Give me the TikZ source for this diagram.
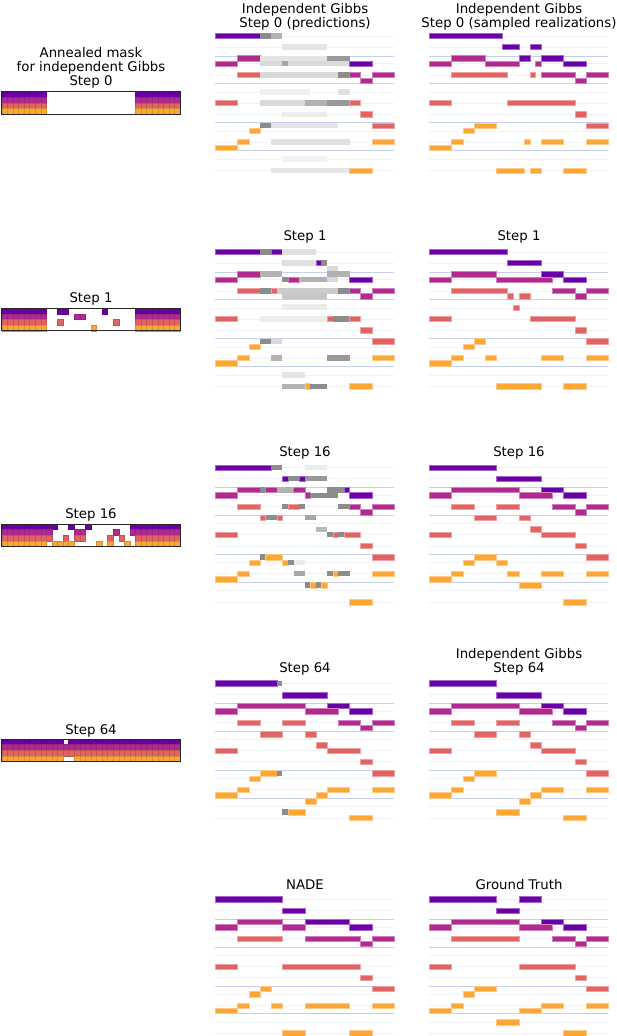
\documentclass[tikz,border=0pt]{standalone}
\usepackage{fontspec}
\setmainfont{DejaVu Sans}
\begin{document}
\definecolor{cP}{HTML}{6A00A8}
\definecolor{cM}{HTML}{B12A90}
\definecolor{cR}{HTML}{E16462}
\definecolor{cO}{HTML}{FCA636}
\definecolor{lnA}{HTML}{EEF0FA}
\definecolor{lnB}{HTML}{C6CFF0}
\newcommand\pX{0}\newcommand\pY{0}
\newcommand\setp[2]{\renewcommand\pX{#1}\renewcommand\pY{#2}%
  \foreach \o in {0,11,27.7,39,56,67,78.3,95,106,123,134.5}{\draw[lnA,line width=.6pt] (\pX,\pY+\o) -- (\pX+179,\pY+\o);}%
  \foreach \o in {20,47.7,86.7,114.5}{\draw[lnB,line width=.6pt] (\pX,\pY+\o) -- (\pX+179,\pY+\o);}}
\newcommand\nn[4]{\fill[#1,draw=#1!60!white,line width=.5pt] ({\pX+#2*5.594},{\pY+#4-2.7}) rectangle ({\pX+#3*5.594},{\pY+#4+2.7});}
\newcommand\nP[3]{\nn{cP}{#1}{#2}{#3}}
\newcommand\nM[3]{\nn{cM}{#1}{#2}{#3}}
\newcommand\nR[3]{\nn{cR}{#1}{#2}{#3}}
\newcommand\nO[3]{\nn{cO}{#1}{#2}{#3}}
\newcommand\nG[4]{\fill[black!#4] ({\pX+#1*5.594},{\pY+#3-2.7}) rectangle ({\pX+#2*5.594},{\pY+#3+2.7});}
\newcommand\mY{0}
\newcommand\mk[4]{\foreach \c in {#2,...,#3}{\fill[#4,draw=#4!85!black,line width=.25pt] ({1.7+\c*5.57},{\mY+#1*5.6}) rectangle ({1.7+(\c+1)*5.57},{\mY+(#1+1)*5.6});}}
\newcommand\mfull{\mk0{0}{7}{cP}\mk1{0}{7}{cM}\mk2{0}{7}{cR}\mk3{0}{7}{cO}\mk0{24}{31}{cP}\mk1{24}{31}{cM}\mk2{24}{31}{cR}\mk3{24}{31}{cO}}
\newcommand\mframe{\draw[black!85,line width=.8pt] (1.7,\mY) rectangle (180,\mY+22.4);}
\begin{tikzpicture}[x=1pt,y=-1pt,every node/.style={font=\fontsize{13.3}{14}\selectfont,align=center,inner sep=0pt}]
\useasboundingbox (0,0) rectangle (616,1036);
\fill[white] (0,0) rectangle (616,1036);
% ---------- titles
\node (t0l) at (305,17) {Independent Gibbs\\Step 0 (predictions)};
\node (t0r) at (519,17) {Independent Gibbs\\Step 0 (sampled realizations)};
\node (t1l) at (305,237) {Step 1};
\node (t1r) at (519,237) {Step 1};
\node (t2l) at (305,453) {Step 16};
\node (t2r) at (519,453) {Step 16};
\node (t3l) at (305,669) {Step 64};
\node (t3r) at (519,662) {Independent Gibbs\\Step 64};
\node (t4l) at (305,885) {NADE};
\node (t4r) at (519,885) {Ground Truth};
\node (m0t) at (91,68) {Annealed mask\\for independent Gibbs\\Step 0};
\node (m1t) at (91,299) {Step 1};
\node (m2t) at (91,515) {Step 16};
\node (m3t) at (91,731) {Step 64};
% ---------- masks
\renewcommand\mY{91.5}\mfull\mframe
\renewcommand\mY{308.3}\mfull
\mk0{10}{11}{cP}\mk0{18}{18}{cP}\mk1{13}{14}{cM}\mk2{10}{10}{cR}\mk2{20}{20}{cR}\mk3{16}{16}{cO}\mframe
\renewcommand\mY{524}
\mk0{0}{9}{cP}\mk0{12}{12}{cP}\mk0{15}{15}{cP}\mk0{23}{31}{cP}
\mk1{0}{8}{cM}\mk1{13}{14}{cM}\mk1{20}{20}{cM}\mk1{23}{31}{cM}
\mk2{0}{8}{cR}\mk2{11}{11}{cR}\mk2{13}{14}{cR}\mk2{19}{19}{cR}\mk2{21}{21}{cR}\mk2{24}{31}{cR}
\mk3{0}{7}{cO}\mk3{9}{12}{cO}\mk3{17}{17}{cO}\mk3{19}{19}{cO}\mk3{22}{22}{cO}\mk3{24}{31}{cO}\mframe
\renewcommand\mY{739}
\mk0{0}{10}{cP}\mk0{12}{31}{cP}\mk1{0}{31}{cM}\mk2{0}{31}{cR}\mk3{0}{10}{cO}\mk3{13}{31}{cO}\mframe
% ---------- row 0 left
\setp{215.3}{36}
\nP{0}{8}{0}\nG{8}{10}{0}{45}\nG{10}{12}{0}{30}
\nG{12}{20}{11}{10}
\nM{4}{8}{22.3}\nG{8}{20}{22.3}{10}\nG{20}{24}{22.3}{40}
\nM{0}{4}{27.7}\nG{8}{24}{27.7}{15}\nG{12}{13}{27.7}{35}\nP{24}{28}{27.7}
\nR{4}{8}{39}\nG{8}{22}{39}{15}\nG{22}{24}{39}{45}\nM{24}{26}{39}\nM{26}{28}{44.5}\nM{28}{32}{39}
\nG{8}{17}{56}{6}\nG{22}{24}{56}{12}
\nR{0}{4}{67}\nG{8}{16}{67}{15}\nG{16}{20}{67}{30}\nG{20}{24}{67}{40}\nR{24}{26}{67}
\nG{12}{20}{78.3}{7}\nR{26}{28}{78.3}
\nG{8}{10}{89.5}{45}\nG{10}{22}{89.5}{10}\nR{28}{32}{89.5}
\nO{6}{8}{95}
\nO{4}{6}{106}\nG{10}{24}{106}{12}\nO{28}{32}{106}
\nO{0}{4}{111.5}
\nG{12}{20}{123}{5}
\nG{10}{24}{134.5}{10}\nO{24}{28}{134.5}
% ---------- row 0 right
\setp{429.3}{36}
\nP{0}{13}{0}\nP{13}{16}{11}\nP{18}{20}{11}\nP{16}{18}{22.3}\nP{20}{24}{22.3}\nP{24}{28}{27.7}
\nM{0}{4}{27.7}\nM{4}{10}{22.3}\nM{10}{16}{27.7}\nM{19}{20}{27.7}\nM{20}{26}{39}\nM{26}{28}{44.5}\nM{28}{32}{39}
\nR{4}{14}{39}\nR{18}{19}{39}\nR{0}{4}{67}\nR{14}{26}{67}\nR{26}{28}{78.3}\nR{28}{32}{89.5}
\nO{8}{12}{89.5}\nO{6}{8}{95}\nO{4}{6}{106}\nO{17}{18}{106}\nO{20}{24}{106}\nO{28}{32}{106}
\nO{0}{4}{111.5}\nO{12}{17}{134.5}\nO{18}{20}{134.5}\nO{24}{28}{134.5}
% ---------- row 1 left
\setp{215.3}{251.8}
\nP{0}{8}{0}\nG{8}{10}{0}{45}\nP{10}{12}{0}\nG{12}{18}{0}{12}
\nG{12}{18}{11}{12}\nP{18}{19}{11}\nG{19}{20}{11}{45}
\nG{20}{22}{17}{15}
\nM{4}{8}{22.3}\nG{8}{12}{22.3}{30}\nG{20}{24}{22.3}{30}
\nM{0}{4}{27.7}\nG{12}{13}{27.7}{45}\nM{13}{15}{27.7}\nG{15}{20}{27.7}{30}\nG{20}{22}{27.7}{15}\nP{24}{28}{27.7}
\nR{4}{8}{39}\nG{8}{10}{39}{45}\nR{10}{11}{39}\nG{11}{22}{39}{20}\nG{22}{24}{39}{45}\nM{24}{26}{39}\nM{26}{28}{44.5}\nM{28}{32}{39}
\nG{12}{20}{44.3}{22}
\nG{12}{20}{55}{8}
\nR{0}{4}{67}\nG{8}{20}{67}{7}\nR{20}{21}{67}\nG{21}{24}{67}{45}\nR{24}{26}{67}
\nR{26}{28}{78.3}
\nG{8}{10}{89.5}{45}\nG{10}{12}{89.5}{15}\nR{28}{32}{89.5}
\nO{6}{8}{95}
\nO{4}{6}{106}\nG{10}{12}{106}{30}\nG{20}{24}{106}{40}\nO{28}{32}{106}
\nO{0}{4}{111.5}
\nG{12}{16}{123}{10}
\nG{12}{16}{134.5}{30}\nO{16}{17}{134.5}\nG{17}{20}{134.5}{45}\nO{24}{28}{134.5}
% ---------- row 1 right
\setp{429.3}{251.8}
\nP{0}{14}{0}\nP{14}{20}{11}\nP{20}{24}{22.3}\nP{24}{28}{27.7}
\nM{0}{4}{27.7}\nM{4}{12}{22.3}\nM{12}{22}{27.7}\nM{22}{26}{39}\nM{26}{28}{44.5}\nM{28}{32}{39}
\nR{4}{14}{39}\nR{14}{15}{44.5}\nR{16}{18}{44.5}\nR{15}{16}{56}\nR{0}{4}{67}\nR{18}{26}{67}\nR{26}{28}{78.3}\nR{28}{32}{89.5}
\nO{8}{10}{89.5}\nO{6}{8}{95}\nO{4}{6}{106}\nO{10}{12}{106}\nO{20}{24}{106}\nO{28}{32}{106}
\nO{0}{4}{111.5}\nO{12}{20}{134.5}\nO{24}{28}{134.5}
% ---------- row 2 left
\setp{215.3}{467.6}
\nP{0}{10}{0}\nG{10}{12}{0}{45}\nG{16}{20}{0}{7}
\nP{12}{13}{11}\nG{13}{15}{11}{45}\nP{15}{16}{11}\nG{16}{20}{11}{40}
\nM{4}{8}{22.3}\nG{8}{9}{22.3}{45}\nM{9}{11}{22.3}\nG{11}{14}{22.3}{30}\nM{14}{16}{22.3}\nG{20}{23}{22.3}{45}\nP{23}{24}{22.3}
\nM{0}{4}{27.7}\nM{16}{17}{27.7}\nG{17}{22}{27.7}{45}\nP{24}{28}{27.7}
\nR{4}{8}{39}\nG{12}{13}{39}{45}\nR{13}{15}{39}\nG{15}{16}{39}{45}\nG{22}{24}{39}{45}\nM{24}{26}{39}\nM{26}{28}{44.5}\nM{28}{32}{39}
\nR{8}{9}{50}\nG{9}{11}{50}{45}\nR{11}{12}{50}\nG{16}{18}{50}{35}
\nG{18}{20}{61.7}{28}
\nR{0}{4}{67}\nG{20}{21}{67}{45}\nR{21}{22}{67}\nG{22}{23}{67}{45}\nR{23}{26}{67}
\nR{26}{28}{78.3}
\nG{8}{9}{89.5}{45}\nO{9}{12}{89.5}\nR{28}{32}{89.5}
\nO{6}{8}{95}\nO{12}{13}{95}\nG{13}{14}{95}{45}\nG{14}{16}{95}{8}
\nO{4}{6}{106}\nG{14}{16}{106}{35}\nG{20}{21}{106}{45}\nO{21}{22}{106}\nG{22}{24}{106}{45}\nO{28}{32}{106}
\nO{0}{4}{111.5}
\nG{16}{17}{117.5}{45}\nO{17}{18}{117.5}\nG{18}{19}{117.5}{45}\nO{19}{20}{117.5}
\nO{24}{28}{134.5}
% ---------- row 2 right
\setp{429.3}{467.6}
\nP{0}{12}{0}\nP{12}{20}{11}\nP{20}{24}{22.3}\nP{24}{28}{27.7}
\nM{0}{4}{27.7}\nM{4}{16}{22.3}\nM{16}{22}{27.7}\nM{22}{26}{39}\nM{26}{28}{44.5}\nM{28}{32}{39}
\nR{4}{8}{39}\nR{12}{16}{39}\nR{8}{12}{50}\nR{16}{18}{50}\nR{18}{20}{61.7}\nR{0}{4}{67}\nR{20}{26}{67}\nR{26}{28}{78.3}\nR{28}{32}{89.5}
\nO{8}{12}{89.5}\nO{6}{8}{95}\nO{12}{14}{95}\nO{4}{6}{106}\nO{14}{16}{106}\nO{20}{24}{106}\nO{28}{32}{106}
\nO{0}{4}{111.5}\nO{16}{20}{117.5}\nO{24}{28}{134.5}
% ---------- row 3 left
\setp{215.3}{683.4}
\nP{0}{11}{0}\nG{11}{12}{0}{45}\nP{12}{20}{11.7}
\nM{4}{16}{22.3}\nP{20}{24}{22.3}
\nM{0}{4}{27.7}\nM{16}{22}{27.7}\nP{24}{28}{27.7}
\nR{4}{8}{39.3}\nR{12}{16}{39.3}\nM{22}{26}{39.3}\nM{26}{28}{44.5}\nM{28}{32}{39.3}
\nR{8}{12}{50.7}\nR{16}{18}{50.7}\nR{18}{20}{61.7}
\nR{0}{4}{67.3}\nR{20}{26}{67.3}\nR{26}{28}{78.3}\nR{28}{32}{90}
\nO{8}{11}{90}\nG{11}{12}{90}{45}\nO{6}{8}{95.3}
\nO{4}{6}{106.3}\nO{20}{24}{106.3}\nO{28}{32}{106.3}
\nO{0}{4}{112}\nO{18}{20}{112}\nO{16}{18}{117.7}
\nG{12}{13}{128.7}{45}\nO{13}{16}{128.7}\nO{24}{28}{134.3}
% ---------- row 3 right
\setp{429.3}{683.4}
\nP{0}{12}{0}\nP{12}{20}{11.7}\nP{20}{24}{22.3}\nP{24}{28}{27.7}
\nM{0}{4}{27.7}\nM{4}{16}{22.3}\nM{16}{22}{27.7}\nM{22}{26}{39.3}\nM{26}{28}{44.5}\nM{28}{32}{39.3}
\nR{4}{8}{39.3}\nR{12}{16}{39.3}\nR{8}{12}{50.7}\nR{16}{18}{50.7}\nR{18}{20}{61.7}\nR{0}{4}{67.3}\nR{20}{26}{67.3}\nR{26}{28}{78.3}\nR{28}{32}{90}
\nO{8}{12}{90}\nO{6}{8}{95.3}\nO{4}{6}{106.3}\nO{20}{24}{106.3}\nO{28}{32}{106.3}
\nO{0}{4}{112}\nO{18}{20}{112}\nO{16}{18}{117.7}\nO{12}{16}{128.7}\nO{24}{28}{134.3}
% ---------- row 4 left (NADE)
\setp{215.3}{899.2}
\nP{0}{12}{0}\nP{12}{16}{11.3}\nP{16}{24}{22.7}\nP{24}{28}{28}
\nM{0}{4}{28}\nM{4}{12}{22.7}\nM{12}{16}{28}\nM{16}{26}{39.3}\nM{26}{28}{44.7}\nM{28}{32}{39.3}
\nR{4}{12}{39.3}\nR{0}{4}{67.3}\nR{12}{26}{67.3}\nR{26}{28}{78.3}\nR{28}{32}{89.7}
\nO{8}{10}{89.7}\nO{6}{8}{95}\nO{4}{6}{106.3}\nO{10}{12}{106.3}\nO{16}{24}{106.3}\nO{28}{32}{106.3}
\nO{0}{4}{111.7}\nO{12}{16}{134}\nO{24}{28}{134}
% ---------- row 4 right (Ground truth)
\setp{429.3}{899.2}
\nP{0}{12}{0}\nP{16}{20}{0}\nP{12}{16}{11.3}\nP{20}{24}{22.7}\nP{24}{28}{28}
\nM{0}{4}{28}\nM{4}{16}{22.7}\nM{16}{22}{28}\nM{22}{26}{39.3}\nM{26}{28}{44.7}\nM{28}{32}{39.3}
\nR{4}{16}{39.3}\nR{0}{4}{67.3}\nR{16}{26}{67.3}\nR{26}{28}{78.3}\nR{28}{32}{89.7}
\nO{8}{12}{89.7}\nO{6}{8}{95}\nO{4}{6}{106.3}\nO{20}{24}{106.3}\nO{28}{32}{106.3}
\nO{0}{4}{111.7}\nO{16}{20}{111.7}\nO{12}{16}{123}\nO{24}{28}{134}
\end{tikzpicture}
\end{document}
